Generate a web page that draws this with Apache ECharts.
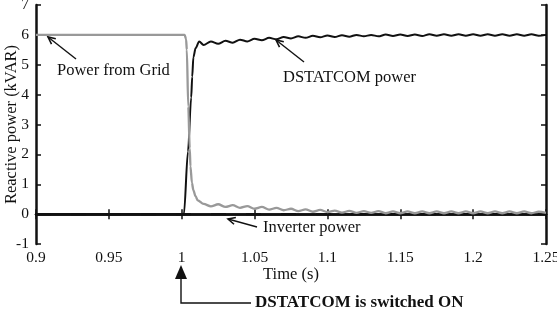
<!doctype html>
<html lang="en">
<head>
  <meta charset="UTF-8">
  <script src="https://cdn.jsdelivr.net/npm/echarts@6/dist/echarts.min.js"></script>
  <title>Reactive power</title>
  <style type="text/css">
    html, body { margin: 0; padding: 0; background: #fff; }
    #canvas { width: 557px; height: 310px; }
  </style>
</head>
<body>
<div id="canvas"></div>

<script type="text/javascript">
  // x ticks / y ticks
  const xTicks = [0.9, 0.95, 1, 1.05, 1.1, 1.15, 1.2, 1.25]
  const yTicks = [-1, 0, 1, 2, 3, 4, 5, 6, 7]

  // power from grid (grey) [time, kVAR]
  const gridPower = [
    [0.9, 6], [1.0, 6], [1.002, 6], [1.003, 5.85], [1.0035, 5.5], [1.0045, 3.6],
    [1.0055, 2.2], [1.006, 1.6], [1.007, 1.05], [1.008, 0.8], [1.0095, 0.6], [1.011, 0.46],
    [1.015, 0.34], [1.02, 0.26], [1.025, 0.33], [1.03, 0.24], [1.035, 0.3], [1.04, 0.21],
    [1.045, 0.27], [1.05, 0.18], [1.055, 0.24], [1.06, 0.15], [1.065, 0.21], [1.07, 0.13],
    [1.075, 0.18], [1.08, 0.1], [1.085, 0.16], [1.09, 0.08], [1.095, 0.14], [1.1, 0.07],
    [1.105, 0.12], [1.11, 0.05], [1.115, 0.11], [1.12, 0.04], [1.125, 0.1], [1.13, 0.04],
    [1.135, 0.1], [1.14, 0.03], [1.145, 0.09], [1.15, 0.03], [1.155, 0.09], [1.16, 0.03],
    [1.165, 0.09], [1.17, 0.03], [1.175, 0.09], [1.18, 0.03], [1.185, 0.09], [1.19, 0.03],
    [1.195, 0.09], [1.2, 0.03], [1.205, 0.09], [1.21, 0.03], [1.215, 0.09], [1.22, 0.03],
    [1.225, 0.09], [1.23, 0.03], [1.235, 0.09], [1.24, 0.03], [1.245, 0.08], [1.25, 0.04]
  ]

  // DSTATCOM power (black) [time, kVAR]
  const dstatcomPower = [
    [0.9, 0], [1.0015, 0], [1.0043, 2.1], [1.0065, 3.9], [1.0072, 4.6], [1.008, 5.25],
    [1.0095, 5.55], [1.012, 5.78], [1.015, 5.66], [1.02, 5.78], [1.025, 5.7], [1.03, 5.8],
    [1.035, 5.74], [1.04, 5.84], [1.045, 5.78], [1.05, 5.87], [1.055, 5.82], [1.06, 5.9],
    [1.065, 5.85], [1.07, 5.93], [1.075, 5.88], [1.08, 5.95], [1.085, 5.9], [1.09, 5.97],
    [1.095, 5.92], [1.1, 5.98], [1.105, 5.93], [1.11, 5.99], [1.115, 5.94], [1.12, 6.0],
    [1.125, 5.95], [1.13, 6.0], [1.135, 5.95], [1.14, 6.01], [1.145, 5.96], [1.15, 6.01],
    [1.155, 5.96], [1.16, 6.01], [1.165, 5.96], [1.17, 6.02], [1.175, 5.97], [1.18, 6.02],
    [1.185, 5.97], [1.19, 6.02], [1.195, 5.97], [1.2, 6.02], [1.205, 5.97], [1.21, 6.02],
    [1.215, 5.97], [1.22, 6.02], [1.225, 5.97], [1.23, 6.02], [1.235, 5.97], [1.24, 6.02],
    [1.245, 5.97], [1.25, 6.0]
  ]

  // inverter power (dashed) [time, kVAR]
  const inverterPower = [[0.9, 0], [1.25, 0]]

  const chart = echarts.init(document.getElementById('canvas'))
  const font = '"Liberation Serif", "Times New Roman", serif'

  const axisBase = {
    min: xTicks[0],
    max: xTicks[xTicks.length - 1],
    interval: 0.05,
  }

  const arrow = (x1, y1, x2, y2) => {
    // open arrow head at (x2, y2)
    const a = Math.atan2(y2 - y1, x2 - x1)
    const l = 8, w = 0.45
    return {
      type: 'group',
      children: [
        { type: 'line', shape: { x1, y1, x2, y2 }, style: { stroke: '#111', lineWidth: 1.4 } },
        {
          type: 'polyline',
          shape: {
            points: [
              [x2 - l * Math.cos(a - w), y2 - l * Math.sin(a - w)],
              [x2, y2],
              [x2 - l * Math.cos(a + w), y2 - l * Math.sin(a + w)],
            ]
          },
          style: { stroke: '#111', lineWidth: 1.6, fill: null }
        }
      ]
    }
  }

  const label = (x, y, text, bold) => ({
    type: 'text',
    x, y,
    style: {
      text,
      font: (bold ? 'bold 17px ' : '16.5px ') + font,
      fill: '#111',
      textVerticalAlign: 'middle',
    }
  })

  const nameStyle = { fontFamily: font, fontSize: 16.5, color: '#111' }

  chart.setOption({
    animation: false,
    grid: { left: 36, right: 11, top: 5, bottom: 66, containLabel: false, outerBoundsMode: 'none' },
    xAxis: [
      {
        type: 'value', ...axisBase,
        name: 'Time (s)', nameLocation: 'middle', nameGap: 22, nameMoveOverlap: false,
        nameTextStyle: nameStyle,
        axisLine: { show: true, lineStyle: { color: '#111', width: 2.5 } },
        axisTick: { inside: true, length: 5, lineStyle: { color: '#111', width: 1.5 } },
        axisLabel: { margin: 6, fontFamily: font, fontSize: 15.5, color: '#111' },
        splitLine: { show: false },
      },
      {
        type: 'value', ...axisBase, position: 'top',
        axisLine: { show: true, lineStyle: { color: '#111', width: 2.5 } },
        axisTick: { inside: true, length: 5, lineStyle: { color: '#111', width: 1.5 } },
        axisLabel: { show: false },
        splitLine: { show: false },
      }
    ],
    yAxis: [
      {
        type: 'value', min: yTicks[0], max: yTicks[yTicks.length - 1], interval: 1,
        name: 'Reactive power (kVAR)', nameLocation: 'middle', nameGap: 16, nameMoveOverlap: false,
        nameTextStyle: nameStyle,
        axisLine: { show: true, lineStyle: { color: '#111', width: 2.5 } },
        axisTick: { inside: true, length: 5, lineStyle: { color: '#111', width: 1.5 } },
        axisLabel: { margin: 7, fontFamily: font, fontSize: 15.5, color: '#111' },
        splitLine: { show: false },
      },
      {
        type: 'value', min: yTicks[0], max: yTicks[yTicks.length - 1], interval: 1, position: 'right',
        axisLine: { show: true, lineStyle: { color: '#111', width: 2.5 } },
        axisTick: { inside: true, length: 5, lineStyle: { color: '#111', width: 1.5 } },
        axisLabel: { show: false },
        splitLine: { show: false },
      }
    ],
    series: [
      {
        name: 'Inverter power', type: 'line', data: inverterPower,
        showSymbol: false,
        lineStyle: { color: '#111', width: 2.2, type: [15, 20] },
      },
      {
        name: 'DSTATCOM power', type: 'line', data: dstatcomPower,
        showSymbol: false, smooth: 0.3, smoothMonotone: 'x',
        lineStyle: { color: '#111', width: 2 },
      },
      {
        name: 'Power from Grid', type: 'line', data: gridPower,
        showSymbol: false, smooth: 0.3, smoothMonotone: 'x',
        lineStyle: { color: '#999', width: 2.3 },
      },
    ],
    graphic: [
      label(57, 71, 'Power from Grid'),
      arrow(76, 59, 48, 37),
      label(283, 78, 'DSTATCOM power'),
      arrow(304, 62, 276, 40),
      label(263, 228, 'Inverter power'),
      arrow(257, 227, 228, 219),
      {
        type: 'polygon',
        shape: { points: [[181, 265], [175, 279], [187, 279]] },
        style: { fill: '#111' }
      },
      {
        type: 'polyline',
        shape: { points: [[181, 278], [181, 303], [251, 303]] },
        style: { stroke: '#111', lineWidth: 1.4, fill: null }
      },
      label(255, 303, 'DSTATCOM is switched ON', true),
    ]
  })
</script>
</body>
</html>
